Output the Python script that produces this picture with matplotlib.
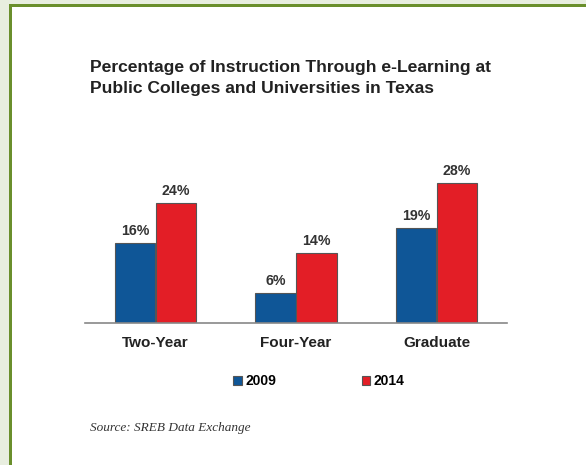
import matplotlib.pyplot as plt
from matplotlib.patches import Rectangle
import numpy as np

categories = ["Two-Year", "Four-Year", "Graduate"]
years = ["2009", "2014"]
pct_2009 = [16, 6, 19]
pct_2014 = [24, 14, 28]

blue = "#0f5697"
red = "#e31e26"
W, H = 586, 465

plt.rcParams["font.family"] = ["Liberation Sans", "DejaVu Sans"]

fig = plt.figure(figsize=(W / 100, H / 100), dpi=100, facecolor="#e8eedf")

# white panel with green frame on top and left
fig.patches.append(Rectangle((11 / W, 0), 1, (H - 7) / H, transform=fig.transFigure,
                             facecolor="white", edgecolor="none", zorder=-2))
fig.patches.append(Rectangle((9 / W, (H - 7) / H), 1, 3 / H, transform=fig.transFigure,
                             facecolor="#6a8f2c", edgecolor="none", zorder=-1))
fig.patches.append(Rectangle((9 / W, 0), 2.5 / W, (H - 4) / H, transform=fig.transFigure,
                             facecolor="#6a8f2c", edgecolor="none", zorder=-1))

ax = fig.add_axes([85 / W, (H - 323) / H, 422 / W, 170 / H])
ax.set_facecolor("none")

x = np.arange(len(categories))
w = 0.285
b1 = ax.bar(x - w / 2 - 0.003, pct_2009, w, color=blue, edgecolor="#555555", linewidth=0.8, label=years[0])
b2 = ax.bar(x + w / 2 + 0.003, pct_2014, w, color=red, edgecolor="#555555", linewidth=0.8, label=years[1])

for bars, vals in ((b1, pct_2009), (b2, pct_2014)):
    for bar, v in zip(bars, vals):
        ax.text(bar.get_x() + bar.get_width() / 2, v + 1.1, f"{v}%", ha="center", va="bottom",
                fontsize=10.2, fontweight="bold", color="#333333")

ax.set_xlim(-0.5, 2.5)
ax.set_ylim(0, 34)
ax.set_yticks([])
ax.set_xticks(x)
ax.set_xticklabels(categories, fontsize=11, fontweight="bold", color="#222222")
ax.tick_params(axis="x", length=0, pad=9)
for s in ["top", "right", "left"]:
    ax.spines[s].set_visible(False)
ax.spines["bottom"].set_color("#888888")
ax.spines["bottom"].set_linewidth(1.2)

fig.text(90 / W, 1 - 60 / H, "Percentage of Instruction Through e-Learning at\nPublic Colleges and Universities in Texas",
         fontsize=12.6, fontweight="bold", color="#222222", va="top", ha="left", linespacing=1.48)

leg = fig.legend(handles=[b1, b2], labels=years, loc="center", bbox_to_anchor=(319 / W, 1 - 381 / H),
                 ncol=2, frameon=False, handlelength=0.6, handleheight=0.6, handletextpad=0.25,
                 columnspacing=6.2, prop={"weight": "bold", "size": 10})

fig.text(90 / W, 1 - 428 / H, "Source: SREB Data Exchange", fontsize=9.5, style="italic",
         family="Liberation Serif", color="#333333", va="center", ha="left")

fig.savefig("out.png", dpi=100, facecolor=fig.get_facecolor())
